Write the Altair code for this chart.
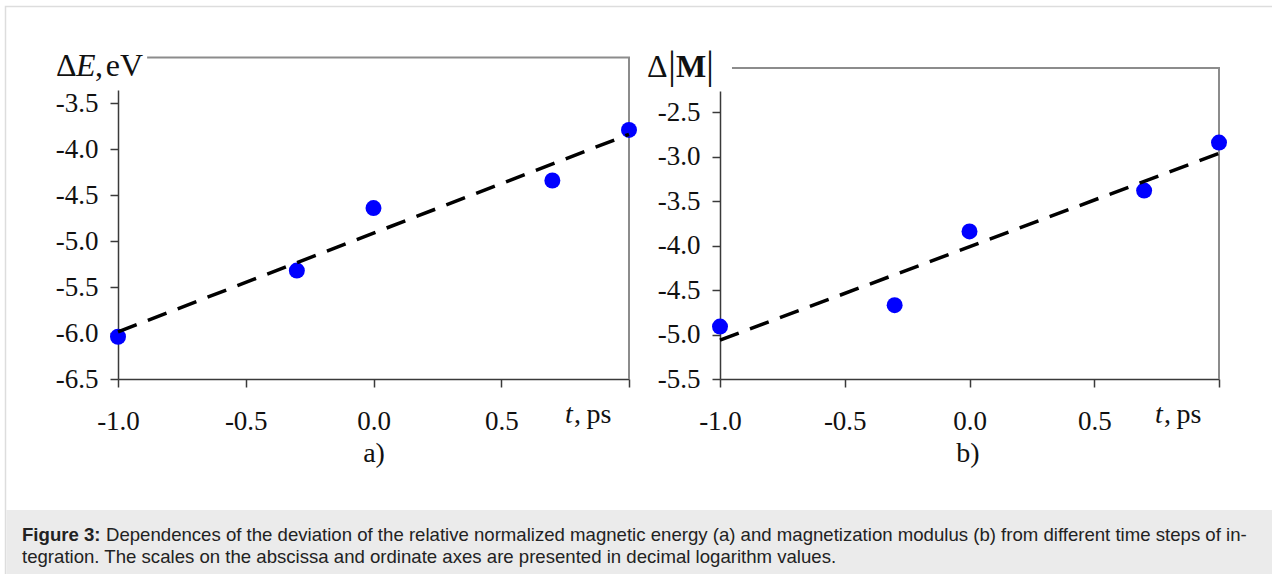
import altair as alt
import pandas as pd

# log10 of the integration time step t, ps
log_step = [-1.0, -0.30, 0.0, 0.70, 1.0]
# log10 of the deviation of the relative normalized magnetic energy, eV
log_dE = [-6.04, -5.32, -4.64, -4.34, -3.79]
# log10 of the deviation of the magnetization modulus
log_dM = [-4.91, -4.67, -3.84, -3.38, -2.84]

x_ticks = [-1.0, -0.5, 0.0, 0.5, 1.0]
y_ticks_a = [-6.5, -6.0, -5.5, -5.0, -4.5, -4.0, -3.5]
y_ticks_b = [-5.5, -5.0, -4.5, -4.0, -3.5, -3.0, -2.5]

cap_bold = "Figure 3:"
cap_line1 = ("Dependences of the deviation of the relative normalized magnetic energy (a) "
             "and magnetization modulus (b) from different time steps of in-")
cap_line2 = ("tegration. The scales on the abscissa and ordinate axes are presented "
             "in decimal logarithm values.")

W, H = 1272, 574
SERIF = "Liberation Serif"
SANS = "Liberation Sans"
AXIS_COLOR = "#3a3a3a"
FRAME_COLOR = "#8c8c8c"
TEXT_COLOR = "#111111"
CAP_SIZE = 18.6
TICK_SIZE = 27

# hyphen instead of the typographic minus; no label on the last x tick
LX = "datum.value >= 1 ? '' : replace(format(datum.value, '.1f'), '\u2212', '-')"
LY = "replace(format(datum.value, '.1f'), '\u2212', '-')"


def axis_style(**kw):
    return alt.Axis(
        grid=False, title=None, domainColor=AXIS_COLOR, domainWidth=1.5,
        tickColor=AXIS_COLOR, tickWidth=1.5, tickSize=8,
        labelFont=SERIF, labelFontSize=TICK_SIZE, labelColor=TEXT_COLOR,
        labelFlush=False, labelOverlap=False, **kw)


def panel(yvals, field, x_px, y_domain, y_px, y_ticks, frame_x0, frame_top):
    df = pd.DataFrame({"t": log_step, field: yvals})
    xs = alt.Scale(domain=[-1.0, 1.0], range=x_px, nice=False, zero=False)
    ys = alt.Scale(domain=y_domain, range=y_px, nice=False, zero=False)
    ex = alt.X("t:Q", scale=xs,
               axis=axis_style(orient="bottom", offset=y_px[0] - H, values=x_ticks,
                               labelExpr=LX, labelPadding=21))
    ey = alt.Y(f"{field}:Q", scale=ys,
               axis=axis_style(orient="left", offset=-x_px[0], values=y_ticks,
                               labelExpr=LY, labelPadding=12))

    # open plot-area frame: top edge and right edge
    frame = pd.DataFrame({"t": [frame_x0, 1.0, 1.0],
                          field: [frame_top, frame_top, y_domain[0]],
                          "i": [0, 1, 2]})
    frame_line = alt.Chart(frame).mark_line(
        color=FRAME_COLOR, strokeWidth=2).encode(x=ex, y=ey, order="i:Q")

    points = alt.Chart(df).mark_circle(
        color="#0000ff", size=255, opacity=1).encode(x=ex, y=ey)

    trend = alt.Chart(df).transform_regression(
        "t", field, extent=[-1.0, 1.0]
    ).mark_line(color="black", strokeWidth=3.5, strokeDash=[20, 12]).encode(x=ex, y=ey)

    return alt.layer(frame_line, points, trend)


def label(text, x, y, size, font=SERIF, style="normal", weight="normal",
          align="left", color=TEXT_COLOR):
    return alt.Chart(pd.DataFrame({"s": [text]})).mark_text(
        font=font, fontSize=size, fontStyle=style, fontWeight=weight,
        align=align, baseline="alphabetic", color=color
    ).encode(text="s:N", x=alt.value(x), y=alt.value(y))


one = pd.DataFrame({"k": [0]})

border = alt.Chart(one).mark_rect(
    fillOpacity=0, stroke="#dddddd", strokeWidth=1.5
).encode(x=alt.value(5.5), x2=alt.value(W + 10), y=alt.value(6.5), y2=alt.value(H + 10))

caption_bg = alt.Chart(one).mark_rect(fill="#ebebeb").encode(
    x=alt.value(6.5), x2=alt.value(W), y=alt.value(510), y2=alt.value(H))

panel_a = panel(log_dE, "dE", [118, 629], [-6.5, -3.355], [379, 90],
                y_ticks_a, -0.886, -3.0)
panel_b = panel(log_dM, "dM", [720, 1219], [-5.5, -2.26], [379, 91],
                y_ticks_b, -0.952, -2.0)

texts = [
    # panel a
    label("\u0394", 56, 76, 32),
    label("E", 76, 76, 32, style="italic"),
    label(",\u200aeV", 95, 76, 32),
    label("t", 565, 423, 28, style="italic"),
    label(",\u2009ps", 574, 423, 28),
    label("a)", 374, 462, 28, align="center"),
    # panel b
    label("\u0394", 647, 77, 32),
    label("|", 668, 78, 40),
    label("M", 676, 77, 32, weight="bold"),
    label("|", 706, 78, 40),
    label("t", 1155, 423, 28, style="italic"),
    label(",\u2009ps", 1164, 423, 28),
    label("b)", 968, 462, 28, align="center"),
    # caption
    label(cap_bold, 22, 541, CAP_SIZE, font=SANS, weight="bold", color="#222222"),
    label(cap_line1, 106, 541, CAP_SIZE, font=SANS, color="#222222"),
    label(cap_line2, 22, 563, CAP_SIZE, font=SANS, color="#222222"),
]

chart = alt.layer(
    caption_bg, border, panel_a, panel_b, *texts
).resolve_scale(
    x="independent", y="independent"
).properties(
    width=W, height=H, padding=0,
    autosize=alt.AutoSizeParams(type="none"),
    background="white",
).configure_view(stroke=None)

chart.save("out.html", embed_options={"renderer": "svg", "actions": False})
